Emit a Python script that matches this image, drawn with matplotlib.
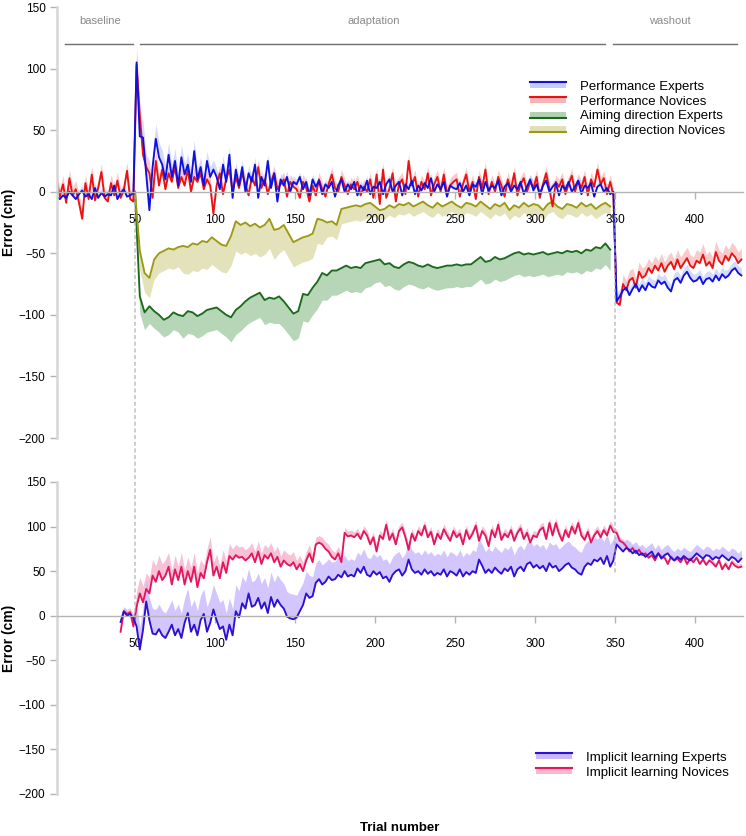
import numpy as np
import matplotlib
matplotlib.use("Agg")
import matplotlib.pyplot as plt
from matplotlib.patches import Rectangle, Patch, ConnectionPatch
from matplotlib.lines import Line2D
from matplotlib.legend_handler import HandlerBase

plt.rcParams["font.family"] = ["Liberation Sans", "DejaVu Sans"]

# ---- data ----
phase_names = ["baseline", "adaptation", "washout"]
phase_spans = [(6, 49), (53, 344), (349, 426)]
phase_label_x = [28, 199, 384]

x_ticks = [50, 100, 150, 200, 250, 300, 350, 400]
y_ticks = [150, 100, 50, 0, -50, -100, -150, -200]

# performance: every second trial, 1..429
perf_trials = np.arange(1, 430, 2)
perf_experts = [
    -4, -6, -3, -5, 0, -3, -6, -2, 1, -4, -2, -6, 3, -5, -1, -4, -2, -3, 5, -6, -1, 2, -4, -3, -1,
    105, 45, 44, 15, -15, 20, 43, 28, 22, 10, 30, 12, 25, 5, 28, 14, 22, 8, 33, 10, 20, 5, 25, 12, 18,
    12, 2, 22, 8, 30, -5, 18, 5, 20, 0, 15, 8, 22, -5, 12, 5, 25, 3, 15, -8, 10, 5, 12, 0, 8,
    6, 12, 2, 8, -3, 10, 4, 9, -2, 6, 3, 8, -4, 5, 10, 0, 6, 2, 8, -3, 5, 1, 9, -2, 4,
    3, 8, -2, 6, 10, 0, 5, 8, -3, 6, 2, 9, -2, 5, 1, 7, 3, 11, 0, 6, 2, 8, -4, 5, 3,
    2, 7, 0, 5, -3, 6, 4, 10, -2, 8, 1, 5, 3, 9, -3, 4, 7, 0, 5, 2, 8, -2, 4, 10, 1,
    6, -2, 5, 9, 0, 4, 7, -3, 5, 2, 8, 0, 4, 9, -2, 5, 3, 7, -4, 4, 6, 0, 3, -2, 0,
    -89, -85, -80, -78, -84, -79, -75, -81, -76, -80, -74, -77, -78, -72, -75, -73, -78, -81, -72, -70,
    -74, -68, -65, -70, -73, -72, -69, -75, -71, -70, -73, -68, -72, -67, -70, -68, -64, -62, -66, -68,
]
perf_novices = [
    10, -4, 6, -9, 11, -3, 2, -9, -22, 7, -6, 14, -7, 3, 16, -5, -8, 7, -3, 9, -5, 1, 17, -6, -8,
    103, 62, 30, 20, 15, -5, 25, 5, 18, 2, 15, 8, 20, 3, 12, 5, 18, 0, 12, 8, 15, 2, 10, 5, -18,
    5, 15, -2, 10, 18, 0, 12, 3, 15, 6, -3, 12, 5, 20, 3, 10, -2, 8, 15, 2, 6, 10, -4, 8, 4,
    2, -5, 8, 3, -8, 5, -3, 10, 2, -4, 6, 14, 3, 0, 12, 5, -2, 6, 2, 8, -3, 4, 0, 10, -5,
    14, -10, 18, -5, 2, 15, -8, 6, 10, -2, 25, 5, 12, -4, 8, 2, 15, -3, 6, 12, 0, 14, -2, 5, 8,
    10, -4, 6, 14, 0, 8, -6, 12, 3, 18, -2, 8, 0, 12, 5, -4, 10, 2, 15, -3, 6, 11, 0, 8, 3,
    12, -5, 6, 15, 2, -12, 8, 4, 10, -2, 6, 13, 0, 9, 3, 12, -3, 10, 4, 18, 6, 11, -2, 8, -3,
    -90, -92, -75, -80, -72, -70, -78, -65, -70, -68, -62, -66, -60, -64, -58, -65, -60, -57, -63, -55,
    -62, -58, -54, -60, -62, -56, -58, -51, -60, -57, -62, -49, -56, -59, -52, -56, -50, -53, -58, -55,
]
# standard error per 10-trial block (upper band)
perf_experts_se = [4, 4, 4, 4, 4, 14, 12, 10, 9, 8, 7, 6, 6, 5, 5,
                   4, 4, 4, 4, 4, 4, 4, 4, 4, 4, 4, 4, 4, 4, 4, 4, 4, 4, 4, 4,
                   6, 6, 6, 6, 6, 6, 6, 6]
perf_novices_se = [7, 7, 7, 7, 7, 10, 9, 8, 8, 7, 7, 7, 6, 6, 6,
                   6, 6, 6, 6, 6, 6, 6, 6, 6, 6, 6, 6, 6, 6, 6, 6, 6, 6, 6, 6,
                   8, 8, 8, 8, 9, 9, 9, 9]

# aiming direction: every third trial, 50..347
aim_trials = np.arange(50, 350, 3)
aim_experts = [
    0, -85, -98, -93, -97, -100, -104, -102, -98, -100,
    -101, -97, -98, -101, -99, -96, -95, -94, -97, -100,
    -102, -96, -93, -89, -86, -84, -82, -88, -86, -87,
    -85, -89, -94, -99, -97, -83, -84, -78, -73, -66,
    -68, -64, -64, -62, -60, -62, -61, -62, -58, -57,
    -56, -55, -59, -58, -61, -62, -59, -57, -58, -60,
    -61, -59, -61, -62, -61, -60, -60, -59, -60, -59,
    -59, -56, -53, -57, -56, -53, -55, -54, -52, -50,
    -49, -51, -50, -51, -50, -49, -51, -50, -49, -50,
    -48, -49, -48, -50, -47, -48, -45, -46, -42, -47,
]
aim_novices = [
    0, -48, -66, -70, -55, -50, -48, -46, -47, -45,
    -44, -45, -42, -43, -40, -41, -37, -40, -43, -44,
    -36, -24, -27, -25, -28, -26, -29, -27, -22, -31,
    -30, -27, -34, -41, -39, -37, -36, -34, -22, -23,
    -25, -24, -27, -14, -13, -12, -11, -12, -10, -9,
    -12, -15, -14, -11, -13, -10, -11, -9, -12, -10,
    -8, -11, -13, -9, -12, -10, -8, -11, -13, -9,
    -10, -12, -8, -11, -14, -10, -12, -9, -15, -11,
    -13, -9, -12, -10, -11, -15, -10, -8, -12, -14,
    -10, -11, -13, -9, -12, -10, -14, -11, -9, -12,
]
# band below the line, per 30-trial block
aim_experts_se = [14, 18, 20, 22, 20, 18, 18, 18, 18, 17]
aim_novices_se = [16, 22, 24, 20, 12, 8, 8, 8, 8, 8]

# implicit learning: every second trial, 41..429
impl_trials = np.arange(41, 430, 2)
impl_experts = [
    -7, 5, 0, 2, -3, -12, -38, -16, 16, -5,
    -20, -21, -15, -22, -25, -18, -10, -22, -15, -25,
    -8, 3, -18, -10, -22, -5, 2, -18, -8, 7,
    -5, -15, -12, -27, -10, -22, 5, -2, 14, 8,
    25, 10, 12, 20, 8, 15, 3, 21, 10, 18,
    12, 8, -1, -3, -4, -2, 5, 12, 25, 20,
    22, 37, 41, 35, 38, 44, 40, 41, 46, 43,
    50, 44, 46, 44, 53, 48, 55, 46, 44, 50,
    46, 49, 42, 44, 38, 46, 50, 52, 45, 50,
    63, 52, 48, 50, 46, 52, 47, 50, 45, 48,
    46, 52, 44, 50, 48, 45, 52, 44, 49, 46,
    50, 48, 63, 56, 48, 52, 48, 54, 50, 47,
    53, 50, 55, 44, 52, 55, 50, 58, 60, 54,
    57, 53, 56, 50, 59, 54, 56, 50, 53, 57,
    59, 54, 52, 48, 46, 55, 59, 57, 63, 61,
    65, 58, 67, 55, 62, 80, 76, 72, 76, 74,
    70, 73, 68, 70, 66, 69, 72, 65, 70, 64,
    68, 70, 65, 62, 66, 63, 67, 64, 62, 66,
    70, 67, 64, 68, 67, 63, 66, 64, 68, 65,
    62, 66, 64, 60, 64,
]
impl_novices = [
    -18, 5, 2, 4, -12, 10, 25, 15, 30, 25,
    45, 38, 50, 40, 45, 55, 35, 52, 40, 55,
    35, 50, 38, 55, 32, 48, 42, 60, 74, 45,
    55, 42, 60, 48, 67, 63, 68, 65, 66, 62,
    65, 70, 60, 72, 58, 68, 64, 70, 60, 66,
    55, 62, 58, 56, 60, 52, 58, 50, 62, 70,
    60, 80, 82, 80, 75, 72, 66, 63, 70, 60,
    93, 89, 90, 88, 92, 86, 95, 90, 80, 88,
    72, 90, 86, 102, 85, 92, 80, 95, 99, 88,
    74, 92, 84, 95, 90, 101, 88, 94, 80, 92,
    86, 97, 90, 84, 95, 88, 92, 80, 96, 86,
    92, 101, 84, 95, 90, 78, 96, 88, 102, 85,
    92, 88, 96, 84, 93, 98, 86, 93, 82, 90,
    88, 96, 99, 86, 104, 90, 104, 92, 84, 96,
    88, 100, 92, 104, 90, 85, 94, 82, 90, 95,
    88, 96, 90, 101, 94, 93, 84, 82, 78, 72,
    76, 70, 74, 68, 70, 65, 68, 62, 70, 66,
    65, 58, 66, 62, 64, 60, 66, 58, 64, 60,
    65, 58, 63, 57, 62, 59, 55, 62, 52, 58,
    52, 60, 56, 54, 55,
]
impl_experts_se = [5, 25, 28, 28, 28, 28, 30, 30, 28, 28, 28, 25, 22, 20,
                   18, 20, 20, 20, 22, 22, 22, 22, 24, 24, 24, 24, 24, 25, 25, 25, 25,
                   10, 10, 10, 10, 10, 10, 10, 10]
impl_novices_se = [5, 18, 18, 16, 16, 15, 14, 12, 12, 12, 12, 10, 8, 8,
                   6, 6, 6, 6, 6, 6, 6, 6, 6, 6, 6, 6, 6, 6, 6, 6, 6,
                   4, 4, 4, 4, 4, 4, 4, 4]

# ---- colours ----
C_PERF_EXP, C_PERF_EXP_BAND = "#1010e0", "#c4ccff"
C_PERF_NOV, C_PERF_NOV_BAND = "#ea1212", "#f8b4b4"
C_AIM_EXP, C_AIM_EXP_BAND = "#1a6a1a", "#b0d2b0"
C_AIM_NOV, C_AIM_NOV_BAND = "#9c9a12", "#e2dfb4"
C_IMP_EXP, C_IMP_EXP_BAND = "#2c10d4", "#c8b8ff"
C_IMP_NOV, C_IMP_NOV_BAND = "#e2175e", "#f8b6cf"
GREY = "#b4b4b4"
LW = 1.35


class BandLineHandler(HandlerBase):
    """Legend key: a shaded band with the mean line on one edge."""

    def __init__(self, line_color, band_color, line_on_top=True):
        super().__init__()
        self.line_color = line_color
        self.band_color = band_color
        self.line_on_top = line_on_top

    def create_artists(self, legend, orig_handle, xdescent, ydescent,
                       width, height, fontsize, trans):
        bh = height * 0.55
        y0 = -ydescent + (height - bh) / 2
        rect = Rectangle((-xdescent, y0), width, bh, facecolor=self.band_color,
                         edgecolor="none", transform=trans)
        ly = y0 + bh if self.line_on_top else y0
        line = Line2D([-xdescent, -xdescent + width], [ly, ly],
                      color=self.line_color, lw=1.5, transform=trans)
        return [rect, line]


def style_axes(ax):
    ax.set_xlim(1, 430)
    ax.set_ylim(-200, 150)
    ax.spines["top"].set_visible(False)
    ax.spines["right"].set_visible(False)
    ax.spines["left"].set_color("#d6d6d6")
    ax.spines["left"].set_linewidth(1.8)
    ax.spines["bottom"].set_position(("data", 0))
    ax.spines["bottom"].set_color(GREY)
    ax.spines["bottom"].set_linewidth(1.0)
    ax.set_xticks(x_ticks)
    ax.set_yticks(y_ticks)
    ax.tick_params(axis="y", length=5, width=1, color=GREY, labelsize=8.5, pad=3)
    ax.tick_params(axis="x", length=5, width=1, color=GREY, labelsize=8.5, pad=11)


def add_legend(fig, labels, handlers, x_px, y_px):
    handles = [Patch() for _ in labels]
    hmap = {h: hd for h, hd in zip(handles, handlers)}
    fig.legend(handles, labels, handler_map=hmap, loc="upper left",
               bbox_to_anchor=(x_px / 746, 1 - y_px / 836), bbox_transform=fig.transFigure,
               frameon=False, fontsize=9.5, handlelength=2.7, handleheight=0.9,
               handletextpad=1.1, labelspacing=0.12, borderpad=0, borderaxespad=0)


fig = plt.figure(figsize=(7.46, 8.36), dpi=100)
ax_top = fig.add_axes([56.6 / 746, 1 - 438 / 836, 686.4 / 746, 431 / 836])
ax_bot = fig.add_axes([56.6 / 746, 1 - 794 / 836, 686.4 / 746, 312 / 836])
for ax in (ax_top, ax_bot):
    style_axes(ax)

# top panel: performance and aiming direction
pe = np.array(perf_experts, float)
pn = np.array(perf_novices, float)
ae = np.array(aim_experts, float)
an = np.array(aim_novices, float)
ax_top.fill_between(aim_trials, ae - np.repeat(aim_experts_se, 10), ae,
                    color=C_AIM_EXP_BAND, lw=0, alpha=0.9)
ax_top.fill_between(aim_trials, an - np.repeat(aim_novices_se, 10), an,
                    color=C_AIM_NOV_BAND, lw=0, alpha=0.9)
ax_top.fill_between(perf_trials, pn, pn + np.repeat(perf_novices_se, 5),
                    color=C_PERF_NOV_BAND, lw=0, alpha=0.7)
ax_top.fill_between(perf_trials, pe, pe + np.repeat(perf_experts_se, 5),
                    color=C_PERF_EXP_BAND, lw=0, alpha=0.7)
ax_top.plot(aim_trials, ae, color=C_AIM_EXP, lw=LW)
ax_top.plot(aim_trials, an, color=C_AIM_NOV, lw=LW)
ax_top.plot(perf_trials, pn, color=C_PERF_NOV, lw=LW)
ax_top.plot(perf_trials, pe, color=C_PERF_EXP, lw=LW)

# phase headers
for name, (x0, x1), xc in zip(phase_names, phase_spans, phase_label_x):
    ax_top.plot([x0, x1], [120, 120], color="#6e6e6e", lw=1.0, clip_on=False)
    ax_top.text(xc, 139, name, ha="center", va="center", fontsize=8, color="#8a8a8a")

# bottom panel: implicit learning
ie = np.array(impl_experts, float)
inv = np.array(impl_novices, float)
ax_bot.fill_between(impl_trials, inv, inv + np.repeat(impl_novices_se, 5),
                    color=C_IMP_NOV_BAND, lw=0, alpha=0.85)
ax_bot.fill_between(impl_trials, ie, ie + np.repeat(impl_experts_se, 5),
                    color=C_IMP_EXP_BAND, lw=0, alpha=0.8)
ax_bot.plot(impl_trials, inv, color=C_IMP_NOV, lw=LW)
ax_bot.plot(impl_trials, ie, color=C_IMP_EXP, lw=LW)

# dashed phase boundaries across both panels
for xb, yb in [(50, 0), (350, 48)]:
    con = ConnectionPatch(xyA=(xb, -3), coordsA=ax_top.transData,
                          xyB=(xb, yb), coordsB=ax_bot.transData,
                          color="#a8a8a8", lw=0.8, linestyle=(0, (3, 3)))
    fig.add_artist(con)

add_legend(fig,
           ["Performance Experts", "Performance Novices",
            "Aiming direction Experts", "Aiming direction Novices"],
           [BandLineHandler(C_PERF_EXP, C_PERF_EXP_BAND, True),
            BandLineHandler(C_PERF_NOV, C_PERF_NOV_BAND, True),
            BandLineHandler(C_AIM_EXP, C_AIM_EXP_BAND, False),
            BandLineHandler(C_AIM_NOV, C_AIM_NOV_BAND, False)],
           530, 80)
add_legend(fig,
           ["Implicit learning Experts", "Implicit learning Novices"],
           [BandLineHandler(C_IMP_EXP, C_IMP_EXP_BAND, True),
            BandLineHandler(C_IMP_NOV, C_IMP_NOV_BAND, True)],
           536, 751)

fig.text(9 / 746, 1 - 222 / 836, "Error (cm)", rotation=90, ha="center", va="center",
         fontsize=10, fontweight="bold")
fig.text(9 / 746, 1 - 638 / 836, "Error (cm)", rotation=90, ha="center", va="center",
         fontsize=10, fontweight="bold")
fig.text(400 / 746, 1 - 828 / 836, "Trial number", ha="center", va="center",
         fontsize=9.5, fontweight="bold")

fig.savefig("out.png", dpi=100)
